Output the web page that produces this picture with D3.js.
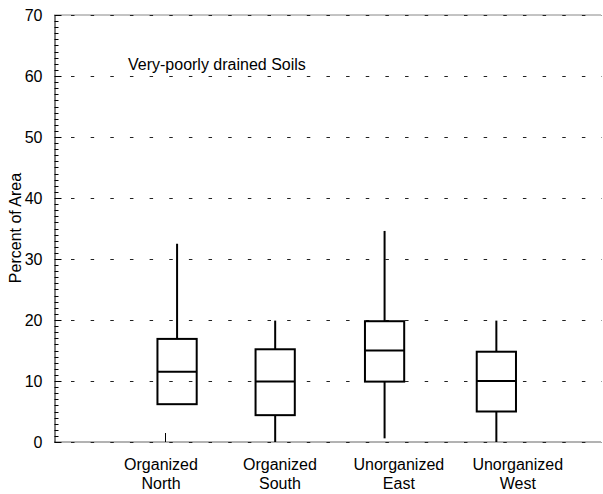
<!DOCTYPE html>
<html><head><meta charset="utf-8">
<script src="https://cdn.jsdelivr.net/npm/d3@7"></script>
<style>body{margin:0;background:#fff}svg{display:block}text{font-family:Arial,"Liberation Sans",sans-serif;fill:#000}</style>
</head><body><svg id="c" width="603" height="494"></svg>
<script>
const categories = [["Organized","North"],["Organized","South"],["Unorganized","East"],["Unorganized","West"]];
const labelPos = [1,2,3,4];
const boxPos = [1.135, 1.96, 2.88, 3.82];
const whiskerLow = [null, 0, 0.6, 0];
const q1 = [6.2, 4.4, 9.9, 5.0];
const median = [11.5, 9.9, 15.0, 10.0];
const q3 = [16.9, 15.2, 19.8, 14.8];
const whiskerHigh = [32.5, 19.9, 34.6, 19.9];
const yTicks = [0,10,20,30,40,50,60,70];
const xTickValues = [1.03];
const title = "Very-poorly drained Soils";
const yLabel = "Percent of Area";

const svg = d3.select("#c");
const x = d3.scaleLinear().domain([0.1, 4.7]).range([54, 601]);
const y = d3.scaleLinear().domain([0, 70]).range([442, 15]);
const boxW = 0.33;

// border lines top & bottom
svg.append("line").attr("x1",54).attr("x2",601).attr("y1",y(70)).attr("y2",y(70)).attr("stroke","#888").attr("stroke-width",1);
svg.append("line").attr("x1",54).attr("x2",601).attr("y1",y(0)).attr("y2",y(0)).attr("stroke","#666").attr("stroke-width",1);

// dashed grid
svg.append("g").selectAll("line").data(yTicks).join("line")
  .attr("x1", 71).attr("x2", 602).attr("y1", d=>y(d)+0.5).attr("y2", d=>y(d)+0.5)
  .attr("stroke","#222").attr("stroke-width",1).attr("stroke-dasharray","3.5,16.15");

// y axis
const yAxis = d3.axisLeft(y).tickValues(yTicks).tickSizeInner(-7).tickSizeOuter(0).tickPadding(4+7);
const gy = svg.append("g").attr("transform","translate(54.5,0)").call(yAxis);
gy.select(".domain").attr("stroke","#000");
gy.selectAll(".tick line").attr("stroke","#000");
gy.selectAll(".tick text").attr("font-size","16px").attr("font-family","Arial, 'Liberation Sans', sans-serif").attr("fill","#000").attr("dx","-1");
// minor ticks
const minor = d3.range(0,71).filter(v=>v%10!==0);
svg.append("g").selectAll("line").data(minor).join("line")
  .attr("x1",54.5).attr("x2",58.5).attr("y1",d=>Math.round(y(d))+0.5).attr("y2",d=>Math.round(y(d))+0.5)
  .attr("stroke","#000").attr("stroke-width",1);

// x ticks
svg.append("g").selectAll("line").data(xTickValues).join("line")
  .attr("x1",d=>Math.round(x(d))+0.5).attr("x2",d=>Math.round(x(d))+0.5).attr("y1",y(0)).attr("y2",y(0)-9)
  .attr("stroke","#000").attr("stroke-width",1);

// boxes
const g = svg.append("g").attr("stroke","#000").attr("stroke-width",2).attr("fill","none");
categories.forEach((c,i)=>{
  const cx = x(boxPos[i]);
  g.append("line").attr("x1",cx).attr("x2",cx).attr("y1",y(q3[i])).attr("y2",y(whiskerHigh[i]));
  if (whiskerLow[i] !== null) g.append("line").attr("x1",cx).attr("x2",cx).attr("y1",y(q1[i])).attr("y2",y(whiskerLow[i]));
  const x0 = x(boxPos[i]-boxW/2), x1 = x(boxPos[i]+boxW/2);
  g.append("rect").attr("x",x0).attr("y",y(q3[i])).attr("width",x1-x0).attr("height",y(q1[i])-y(q3[i]));
  g.append("line").attr("x1",x0).attr("x2",x1).attr("y1",y(median[i])).attr("y2",y(median[i]));
});

// category labels
const lg = svg.append("g");
categories.forEach((c,i)=>{
  const t = lg.append("text").attr("x",x(labelPos[i])).attr("y",470).attr("text-anchor","middle").attr("font-size","16px");
  t.append("tspan").attr("x",x(labelPos[i])).text(c[0]);
  t.append("tspan").attr("x",x(labelPos[i])).attr("dy",19).text(c[1]);
});

svg.append("text").attr("x",128).attr("y",70).attr("font-size","16px").text(title);
svg.append("text").attr("transform","translate(21,228) rotate(-90)").attr("text-anchor","middle").attr("font-size","16px").text(yLabel);
</script></body></html>
